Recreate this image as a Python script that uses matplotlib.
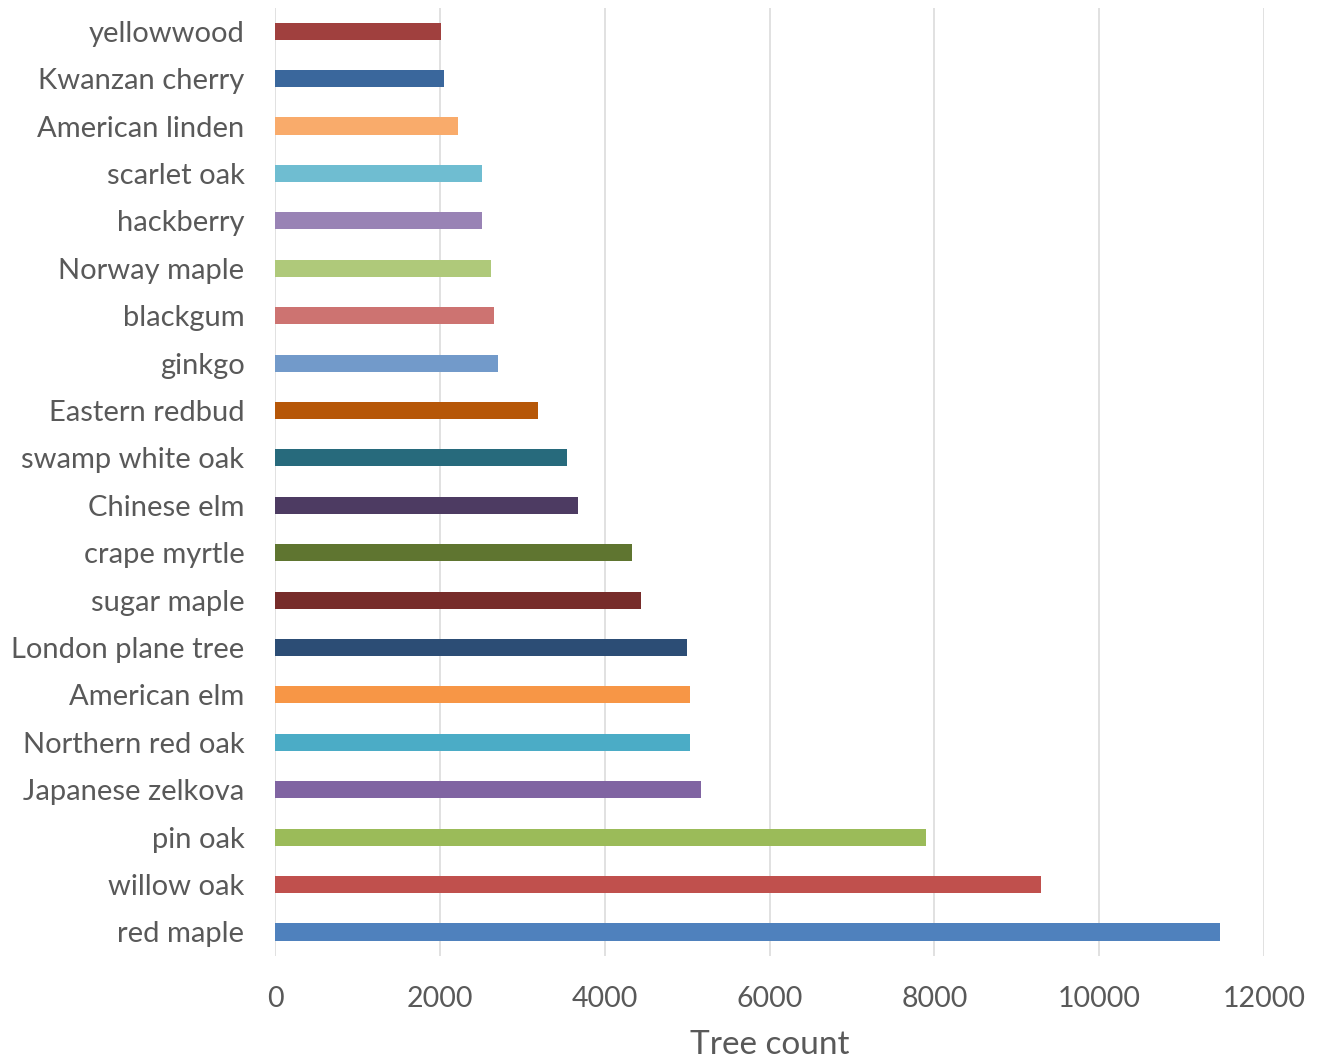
import matplotlib
matplotlib.use("Agg")
import matplotlib.pyplot as plt

categories = ["red maple", "willow oak", "pin oak", "Japanese zelkova", "Northern red oak",
              "American elm", "London plane tree", "sugar maple", "crape myrtle", "Chinese elm",
              "swamp white oak", "Eastern redbud", "ginkgo", "blackgum", "Norway maple",
              "hackberry", "scarlet oak", "American linden", "Kwanzan cherry", "yellowwood"]
counts = [11466, 9294, 7899, 5169, 5035, 5035, 4999, 4441, 4332, 3676,
          3543, 3191, 2706, 2657, 2621, 2512, 2512, 2220, 2050, 2014]
colors = ["#4F81BD", "#C0504D", "#9BBB59", "#8064A2", "#4BACC6", "#F79646",
          "#2C4D75", "#772C2A", "#5F7530", "#4D3B62", "#276A7C", "#B65708",
          "#729ACA", "#CD7371", "#AFC97A", "#9983B5", "#6FBDD1", "#F9AB6B",
          "#3A679C", "#A0403E"]
xticks = [0, 2000, 4000, 6000, 8000, 10000, 12000]

plt.rcParams['font.family'] = ['Lato', 'DejaVu Sans']

fig = plt.figure(figsize=(13.18, 10.63), dpi=100)
ax = fig.add_axes([275/1318, (1063-955.7)/1063, 989/1318, 948.2/1063])

y = list(range(len(categories)))
ax.barh(y, counts, height=0.36, color=colors, zorder=3)
ax.set_ylim(-0.5, len(categories) - 0.5)
ax.set_xlim(0, 12000)
ax.set_xticks(xticks)
ax.set_xticklabels([str(t) for t in xticks])
ax.set_yticks(y)
ax.set_yticklabels(categories)

for s in ax.spines.values():
    s.set_visible(False)
ax.grid(axis='x', color='#D9D9D9', linewidth=1.1, zorder=0)
ax.tick_params(axis='both', length=0, labelcolor='#595959')
ax.tick_params(axis='y', pad=22, labelsize=21)
ax.tick_params(axis='x', pad=22, labelsize=20.5)
ax.set_xlabel("Tree count", fontsize=24, color='#595959', labelpad=13)

fig.savefig("out.png", dpi=100)
